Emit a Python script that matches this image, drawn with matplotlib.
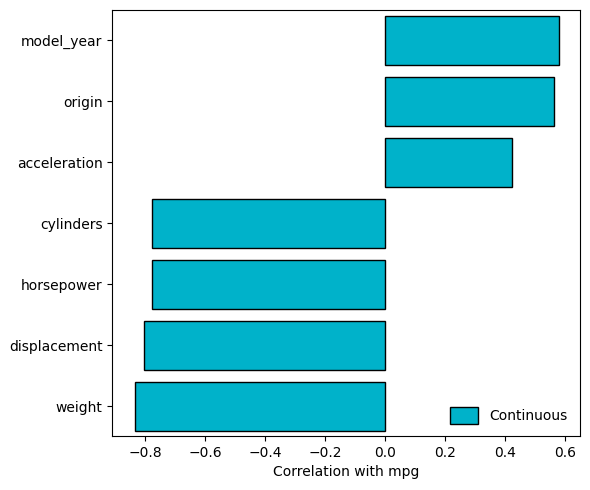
import matplotlib
matplotlib.use("Agg")
import matplotlib.pyplot as plt

features = ["weight", "displacement", "horsepower", "cylinders", "acceleration", "origin", "model_year"]
corr = [-0.832, -0.805, -0.778, -0.778, 0.423, 0.565, 0.580]

fig, ax = plt.subplots(figsize=(5.9, 4.9), dpi=100)
ax.barh(features, corr, color="#00b2ca", edgecolor="black", height=0.8, label="Continuous")
ax.set_xlabel("Correlation with mpg")
ax.set_xlim(-0.91, 0.65)
ax.set_ylim(-0.49, 6.5)
ax.legend(loc="lower right", frameon=False, handlelength=2.0, handleheight=1.45)
fig.subplots_adjust(left=0.19, right=0.983, top=0.98, bottom=0.11)
plt.savefig("out.png")
